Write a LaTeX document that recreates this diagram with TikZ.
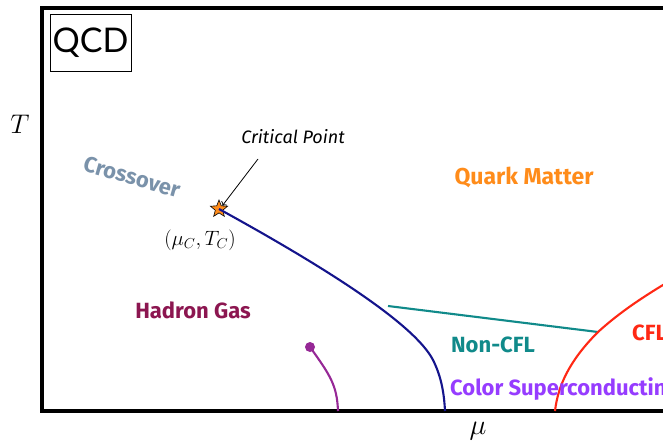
\documentclass[tikz,border=0pt]{standalone}
\usepackage{fontspec}
\usepackage{graphicx}
\usepackage{tikz}
\usetikzlibrary{arrows.meta, calc, positioning, shapes.geometric}
\newfontfamily\comicfont{Fira Sans}
\newfontfamily\boxfont{Lato}
\definecolor{crossgray}{RGB}{122,146,170}
\definecolor{quarkorange}{RGB}{255,140,26}
\definecolor{hadronred}{RGB}{140,22,80}
\definecolor{noncfl}{RGB}{16,138,138}
\definecolor{cscpurple}{RGB}{150,60,255}
\definecolor{cflred}{RGB}{255,40,20}
\definecolor{lineblue}{RGB}{20,20,140}
\definecolor{purpleline}{RGB}{150,40,150}

\begin{document}
\begin{tikzpicture}[x=1pt, y=-1pt,
  phase/.style={font=\comicfont\bfseries\fontsize{22}{26}\selectfont, inner sep=0pt}]
\clip (0,0) rectangle (663,447);
\fill[white] (0,0) rectangle (663,447);

% frame and axes
\draw[line width=3.2pt] (680,8) -- (42,8) -- (42,411) -- (680,411);
\node (T) at (20,124) {\fontsize{17.28}{20}\selectfont\scalebox{1.56}{$T$}};
\node (mu) at (478,431) {\fontsize{17.28}{20}\selectfont\scalebox{1.65}{$\mu$}};
\node (QCD) [draw, line width=1pt, minimum width=81pt, minimum height=57pt, inner sep=0pt]
  at (90.5,42.5) {\boxfont\fontsize{34}{38}\selectfont QCD};

% critical point
\coordinate (tj) at (388,306);
\coordinate (rj) at (598,332);
\node (cep) [star, star points=5, star point ratio=2.3, minimum size=18pt, inner sep=0pt,
  draw, line width=0.6pt, fill=quarkorange] at (219,209) {};
\node (cp) at (293,137) {\comicfont\itshape\fontsize{18}{20}\selectfont Critical Point};
\draw[->, line width=0.8pt] (258,159) -- (cep.north east);
\node (muc) at (200,240) {\fontsize{17.28}{20}\selectfont\scalebox{1.2}{$(\mu_C,T_C)$}};

% phase lines
\draw[lineblue, line width=2.1pt] (cep.center) .. controls (330,270) and (415,325) .. (433,360)
  .. controls (441,376) and (444,392) .. (445,411);
\draw[noncfl, line width=2.1pt] (tj) -- (rj);
\draw[cflred, line width=2.1pt] (555,411) .. controls (558,385) and (570,360) .. (rj)
  .. controls (620,312) and (645,295) .. (685,272);
\node (nuc) [circle, fill=purpleline, minimum size=10pt, inner sep=0pt] at (310,347) {};
\draw[purpleline, line width=2.1pt] (nuc.center) .. controls (330,375) and (337,385) .. (338,411);

% phase labels
\node (cross) [phase, text=crossgray, rotate=-16] at (132,177) {Crossover};
\node (quark) [phase, text=quarkorange, font=\comicfont\bfseries\fontsize{23}{26}\selectfont] at (524,177) {Quark Matter};
\node (hadron) [phase, text=hadronred] at (193,310) {Hadron Gas};
\node (ncfl) [phase, text=noncfl] at (493,345) {Non-CFL};
\node (csc) [phase, text=cscpurple, anchor=west] at (450,389) {Color Superconducting};
\node (cfl) [phase, text=cflred, anchor=west] at (632,333) {CFL};
\end{tikzpicture}
\end{document}
